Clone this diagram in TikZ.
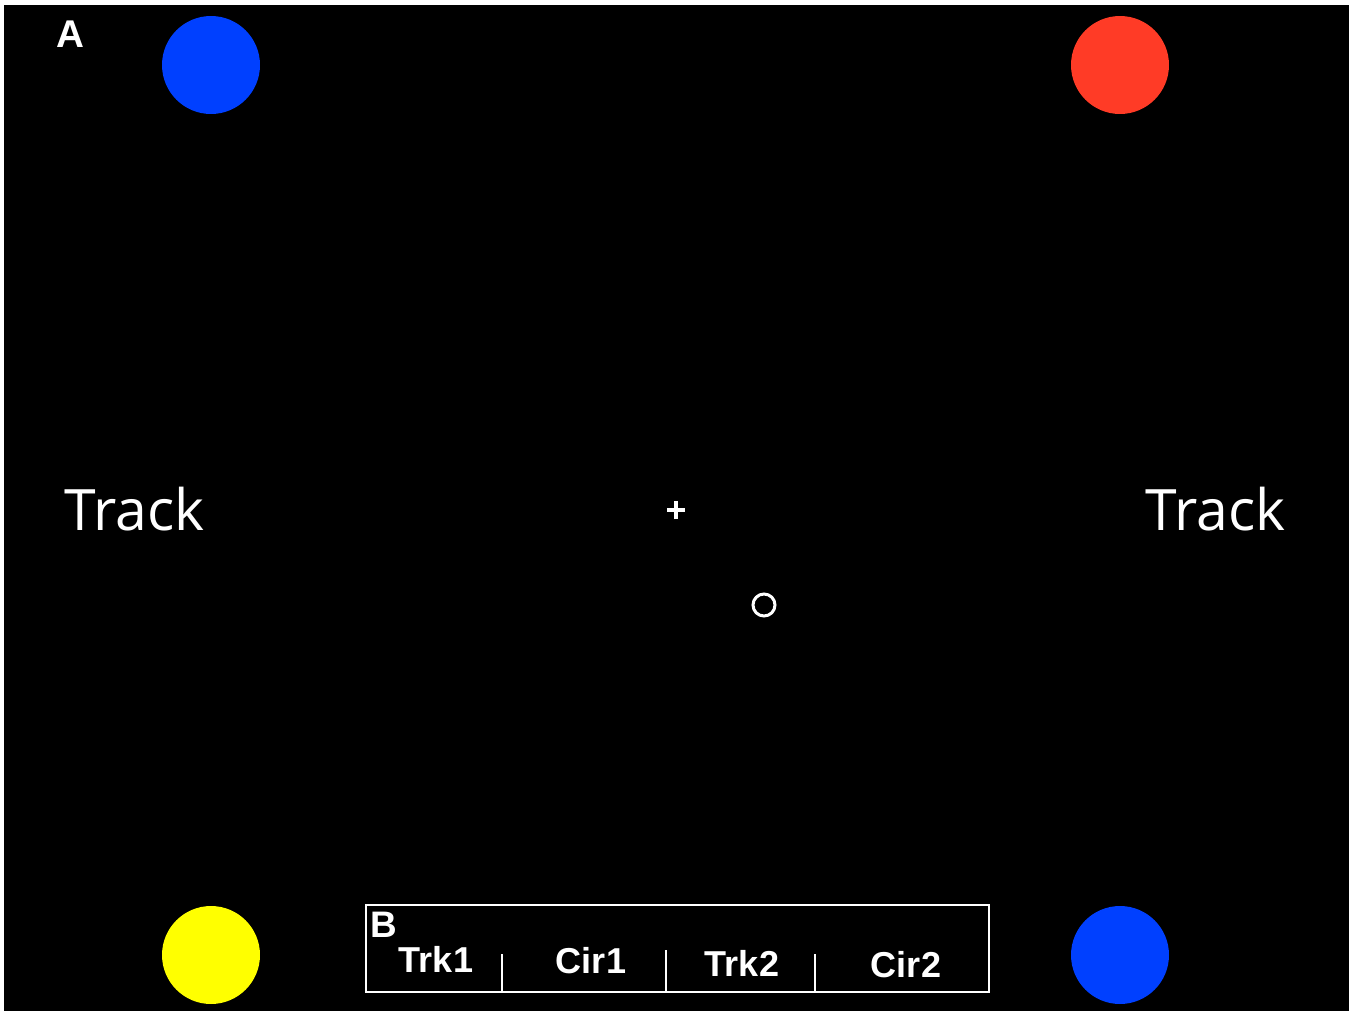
\documentclass[tikz,border=0pt]{standalone}
\usepackage{fontspec}
\setmainfont{Liberation Sans}
\newfontfamily\trackfont{Open Sans}
\usetikzlibrary{positioning}
\definecolor{screen}{RGB}{0,0,0}
\definecolor{blueblob}{RGB}{0,64,255}
\definecolor{redblob}{RGB}{255,59,38}
\definecolor{yellowblob}{RGB}{255,255,0}
\tikzset{
  blob/.style={circle,fill=#1,minimum size=1.96cm,inner sep=0pt},
  blob/.default=blueblob,
  panel/.style={text=white,font=\fontsize{22}{26}\selectfont\bfseries,inner sep=0pt},
  side/.style={text=white,font=\trackfont\fontsize{32.5}{38}\selectfont,inner sep=0pt,anchor=base west},
  phase/.style={text=white,font=\fontsize{20.5}{24}\selectfont\bfseries,inner sep=0pt,anchor=base},
  frame/.style={draw=white,line width=1.2pt},
}

\begin{document}
\begin{tikzpicture}[x=0.02cm,y=-0.02cm]
    \useasboundingbox (0,0) rectangle (1353,1011);
    \fill[white] (0,0) rectangle (1353,1011);
    \fill[screen] (4,5) rectangle (1349,1011);
    % four corner targets
    \foreach \n/\x/\y/\c in {tl/211/65/blueblob,tr/1120/65/redblob,bl/211/955/yellowblob,br/1120/955/blueblob}
      \node[blob=\c] (\n) at (\x,\y) {};
    \node[panel] (la) at (70,34) {A};
    \node[side] (trackl) at (64,530) {Track};
    \node[side] (trackr) at (1145,530) {Track};
    % fixation cross and cursor
    \coordinate (fix) at (676,510);
    \draw[white,line width=2.5pt] ([xshift=-0.18cm]fix) -- ([xshift=0.18cm]fix)
      ([yshift=-0.18cm]fix) -- ([yshift=0.18cm]fix);
    \node[circle,draw=white,line width=1.7pt,minimum size=0.44cm,inner sep=0pt] (cursor) at (764,605) {};
    % block sequence
    \draw[frame] (366,905) rectangle (989,992);
    \node[panel,font=\fontsize{21}{25}\selectfont\bfseries] (lb) at (384,925) {B};
    \foreach \x/\t in {954/502,950/666,954/815}
      \draw[frame] (\t,\x) -- (\t,992);
    \foreach \x/\y/\t [count=\i] in {436/972/Trk1,591/973/Cir1,742/976/Trk2,906/977/Cir2}
      \node[phase] (blk\i) at (\x,\y) {\t};
\end{tikzpicture}
\end{document}
